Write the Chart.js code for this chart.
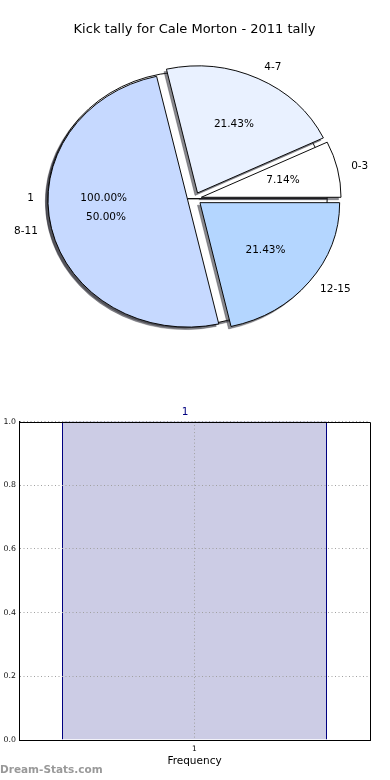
<!DOCTYPE html>
<html>
<head>
<meta charset="utf-8">
<script src="https://cdn.jsdelivr.net/npm/chart.js"></script>
<style>
  html, body { margin: 0; padding: 0; background: #fff; }
  body { width: 390px; height: 780px; position: relative; overflow: hidden; font-family: 'DejaVu Sans', sans-serif; }
  canvas { position: absolute; left: 0; }
  #watermark { position: absolute; left: 0; top: 763px; font-size: 10.5px; font-weight: bold; color: #999; }
</style>
</head>
<body>
<canvas id="pieBase" width="390" height="380" style="top:0"></canvas>
<canvas id="pie" width="390" height="380" style="top:0"></canvas>
<canvas id="bar" width="390" height="400" style="top:380px"></canvas>
<div id="watermark">Dream-Stats.com</div>
<script>
// data
const pieTitle = 'Kick tally for Cale Morton - 2011 tally';
const kickRanges = ['0-3', '4-7', '8-11', '12-15'];
const kickCounts = [1, 3, 7, 3];
const totalLabels = ['1'];
const totalCounts = [1];

const barTitle = '1';
const freqLabels = ['1'];
const freqValues = [1];
const freqTicks = [0, 0.2, 0.4, 0.6, 0.8, 1.0];

const FONT = "'DejaVu Sans', sans-serif";
const EXPLODE = 0.05;          // fraction of radius, like matplotlib explode
const SQUASH = 127 / 139.7;    // pie axes are not equal -> ellipse
const sliceColors = ['#ffffff', '#e9f1ff', '#c6d9ff', '#b4d6ff'];

// matplotlib goes counter-clockwise from 3 o'clock, chart.js clockwise: reverse
const pieLabels = kickRanges.slice().reverse();
const pieValues = kickCounts.slice().reverse();
const pieColors = sliceColors.slice().reverse();

// exploded wedges
const arcDraw = Chart.ArcElement.prototype.draw;
Chart.ArcElement.prototype.draw = function (ctx) {
  const mid = (this.startAngle + this.endAngle) / 2;
  const d = EXPLODE * this.outerRadius;
  ctx.save();
  ctx.translate(Math.cos(mid) * d, Math.sin(mid) * d);
  arcDraw.call(this, ctx);
  ctx.restore();
};

function squash(ctx, el) {
  ctx.translate(el.x, el.y);
  ctx.scale(1, SQUASH);
  ctx.translate(-el.x, -el.y);
}

const shadowPlugin = {
  id: 'pieShadow',
  beforeDatasetsDraw(chart) {
    const ctx = chart.ctx;
    const arcs = chart.getDatasetMeta(0).data;
    ctx.save();
    ctx.translate(-2.5, 2.5);
    squash(ctx, arcs[0]);
    arcs.forEach(el => {
      const o = el.options;
      el.options = Object.assign({}, o, { backgroundColor: 'rgba(40,40,50,0.55)', borderColor: 'rgba(40,40,50,0.3)' });
      el.draw(ctx);
      el.options = o;
    });
    ctx.restore();
    ctx.save();
    squash(ctx, arcs[0]);
  },
  afterDatasetsDraw(chart) {
    chart.ctx.restore();
  }
};

function drawPieLabels(src, ctx) {
  const arcs = src.getDatasetMeta(0).data;
  const labels = src.data.labels;
  const values = src.data.datasets[0].data;
  const total = values.reduce((a, b) => a + b, 0);
  ctx.save();
  ctx.fillStyle = '#000';
  ctx.font = '10.5px ' + FONT;
  ctx.textBaseline = 'middle';
  arcs.forEach((el, i) => {
    const mid = (el.startAngle + el.endAngle) / 2;
    const c = Math.cos(mid), s = Math.sin(mid);
    const R = el.outerRadius;
    const lf = EXPLODE + 1.1, pf = EXPLODE + 0.6;
    ctx.textAlign = c > 0 ? 'left' : 'right';
    ctx.fillText(labels[i], el.x + lf * R * c, el.y + lf * R * s * SQUASH);
    ctx.textAlign = 'center';
    ctx.fillText((values[i] / total * 100).toFixed(2) + '%', el.x + pf * R * c, el.y + pf * R * s * SQUASH);
  });
  ctx.restore();
}

function pieOptions(padTop, withTitle) {
  return {
    responsive: false,
    animation: false,
    rotation: 90,
    radius: 139.7,
    layout: { padding: { top: padTop, bottom: 20.2, left: 0, right: 1 } },
    plugins: {
      legend: { display: false },
      tooltip: { enabled: false },
      title: {
        display: withTitle,
        text: pieTitle,
        color: '#000',
        font: { family: FONT, size: 13, weight: 'normal' },
        padding: { top: 22, bottom: 0 }
      }
    }
  };
}

// the single "1" wedge sits underneath the exploded pie
const baseChart = new Chart(document.getElementById('pieBase'), {
  type: 'pie',
  data: {
    labels: totalLabels,
    datasets: [{
      data: totalCounts,
      circumference: 360.001,   // full circle without a radial seam
      backgroundColor: ['#ffffff'],
      borderColor: '#000', borderWidth: 1, borderJoinStyle: 'miter', clip: false
    }]
  },
  options: pieOptions(37.6, false),
  plugins: [shadowPlugin]
});

new Chart(document.getElementById('pie'), {
  type: 'pie',
  data: {
    labels: pieLabels,
    datasets: [{
      data: pieValues,
      backgroundColor: pieColors,
      borderColor: '#000', borderWidth: 1, borderJoinStyle: 'miter', clip: false
    }]
  },
  options: pieOptions(0, true),
  plugins: [shadowPlugin, {
    id: 'pieLabels',
    afterDraw(chart) {
      drawPieLabels(baseChart, chart.ctx);
      drawPieLabels(chart, chart.ctx);
    }
  }]
});

// histogram
const gridOpts = { color: '#a0a0a0', lineWidth: 1, drawTicks: false, z: 1 };
const borderOpts = { display: true, color: '#000', width: 1, dash: [1, 2.5], z: 2 };

new Chart(document.getElementById('bar'), {
  type: 'bar',
  data: {
    labels: freqLabels,
    datasets: [{
      data: freqValues,
      backgroundColor: '#ccccE5',
      borderColor: '#000080',
      borderWidth: { left: 1, right: 1, top: 1, bottom: 0 },
      borderSkipped: false,
      barPercentage: 265 / 351,
      categoryPercentage: 1
    }]
  },
  options: {
    responsive: false,
    animation: false,
    layout: { padding: { top: 0, right: 20, bottom: 0, left: 0 } },
    plugins: {
      legend: { display: false },
      tooltip: { enabled: false },
      title: {
        display: true,
        text: barTitle,
        color: '#000080',
        font: { family: FONT, size: 10.5, weight: 'normal' },
        padding: { top: 26, bottom: 3 }
      }
    },
    scales: {
      x: {
        offset: true,
        grid: Object.assign({ offset: false }, gridOpts),
        border: borderOpts,
        ticks: { color: '#000', font: { family: FONT, size: 7.5 }, padding: 5 },
        title: { display: true, text: 'Frequency', color: '#000', font: { family: FONT, size: 10.5 }, padding: { top: 0, bottom: 12 } },
        afterFit: s => { s.height = 40; }
      },
      y: {
        min: 0,
        max: 1,
        grid: gridOpts,
        border: borderOpts,
        afterBuildTicks: s => { s.ticks = freqTicks.map(v => ({ value: v })); },
        ticks: { color: '#111', font: { family: FONT, size: 7.8 }, padding: 3, callback: v => v.toFixed(1) },
        afterFit: s => { s.width = 19; }
      }
    }
  },
  plugins: [{
    id: 'frame',
    afterDraw(chart) {
      const { ctx, chartArea: a } = chart;
      ctx.save();
      ctx.strokeStyle = '#000';
      ctx.lineWidth = 1;
      ctx.beginPath();
      ctx.moveTo(Math.round(a.left), Math.round(a.top) + 0.5);
      ctx.lineTo(Math.round(a.right) + 0.5, Math.round(a.top) + 0.5);
      ctx.lineTo(Math.round(a.right) + 0.5, Math.round(a.bottom));
      ctx.stroke();
      ctx.restore();
    }
  }]
});
</script>
</body>
</html>
